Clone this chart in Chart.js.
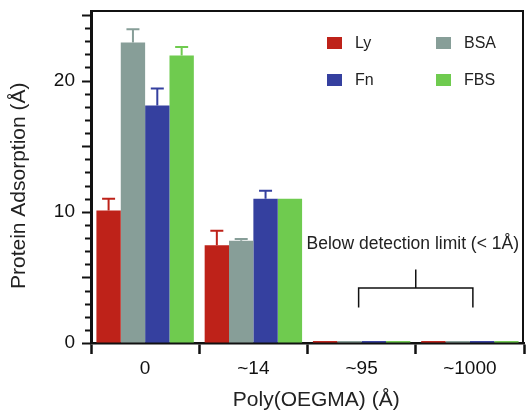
<!DOCTYPE html>
<html>
<head>
<meta charset="utf-8">
<script src="https://cdn.jsdelivr.net/npm/chart.js@4.4.1/dist/chart.umd.min.js"></script>
<style>
  body { margin: 0; background: #fff; }
  #wrap { width: 526px; height: 411px; }
</style>
</head>
<body>
<div id="wrap"><canvas id="adsorption"></canvas></div>
<script>
// thickness categories and adsorbed protein (Å)
let thickness = ["0", "~14", "~95", "~1000"];
let proteins = ["Ly", "BSA", "Fn", "FBS"];
let colors = ["#BE2219", "#879E98", "#35409F", "#6FCB4F"];

let ly = [10.1, 7.45, 0.15, 0.15];
let bsa = [22.9, 7.8, 0.15, 0.15];
let fn = [18.1, 11.0, 0.15, 0.15];
let fbs = [21.9, 11.0, 0.15, 0.15];

// upward error bars
let lyErr = [0.9, 1.1, 0, 0];
let bsaErr = [1.0, 0.12, 0, 0];
let fnErr = [1.3, 0.6, 0, 0];
let fbsErr = [0.65, 0, 0, 0];

let font = "'Liberation Sans', Arial, sans-serif";

let errorBars = {
  id: "errorBars",
  afterDatasetsDraw(chart) {
    let ctx = chart.ctx;
    let y = chart.scales.y;
    chart.data.datasets.forEach((ds, i) => {
      let meta = chart.getDatasetMeta(i);
      meta.data.forEach((bar, j) => {
        let e = ds.errors[j];
        if (!e) return;
        let top = y.getPixelForValue(ds.data[j] + e);
        ctx.save();
        ctx.strokeStyle = ds.backgroundColor;
        ctx.lineWidth = 2;
        ctx.beginPath();
        ctx.moveTo(bar.x, bar.y);
        ctx.lineTo(bar.x, top);
        ctx.moveTo(bar.x - 6.5, top);
        ctx.lineTo(bar.x + 6.5, top);
        ctx.stroke();
        ctx.restore();
      });
    });
  }
};

let frame = {
  id: "frame",
  afterDraw(chart) {
    let ctx = chart.ctx;
    let a = chart.chartArea;
    let y = chart.scales.y;
    ctx.save();
    ctx.strokeStyle = "#111";
    // top and right border
    ctx.lineWidth = 2;
    ctx.beginPath();
    ctx.moveTo(a.left, a.top);
    ctx.lineTo(a.right - 1, a.top);
    ctx.lineTo(a.right - 1, a.bottom);
    ctx.stroke();
    // y ticks, longer every 5
    for (let v = 0; v <= 25; v++) {
      let py = Math.round(y.getPixelForValue(v)) + 0.5;
      let len = v % 5 == 0 ? 9 : 6;
      ctx.lineWidth = 2;
      ctx.beginPath();
      ctx.moveTo(a.left - len, py);
      ctx.lineTo(a.left, py);
      ctx.stroke();
    }
    ctx.restore();
  }
};

let legendBox = {
  id: "legendBox",
  afterDraw(chart) {
    let ctx = chart.ctx;
    ctx.save();
    ctx.font = "16px " + font;
    ctx.textBaseline = "middle";
    chart.data.datasets.forEach((ds, i) => {
      let col = i % 2, row = Math.floor(i / 2);
      let x = 327 + col * 109;
      let yc = 43 + row * 37;
      ctx.fillStyle = ds.backgroundColor;
      ctx.fillRect(x, yc - 6, 15, 12);
      ctx.fillStyle = "#222";
      ctx.fillText(ds.label, x + 28, yc + 1);
    });
    ctx.restore();
  }
};

let bracket = {
  id: "bracket",
  afterDraw(chart) {
    let ctx = chart.ctx;
    let x = chart.scales.x;
    let y = chart.scales.y;
    let x1 = x.getPixelForValue(2) - 3;
    let x2 = x.getPixelForValue(3) + 3;
    let xm = (x1 + x2) / 2;
    let yStem = y.getPixelForValue(5.6);
    let yBar = y.getPixelForValue(4.2);
    let yLeg = y.getPixelForValue(2.7);
    ctx.save();
    ctx.strokeStyle = "#111";
    ctx.lineWidth = 1.5;
    ctx.beginPath();
    ctx.moveTo(xm, yStem);
    ctx.lineTo(xm, yBar);
    ctx.moveTo(x1, yLeg);
    ctx.lineTo(x1, yBar);
    ctx.lineTo(x2, yBar);
    ctx.lineTo(x2, yLeg);
    ctx.stroke();
    ctx.fillStyle = "#222";
    ctx.font = "17.5px " + font;
    ctx.textAlign = "center";
    ctx.textBaseline = "middle";
    ctx.fillText("Below detection limit (< 1Å)", xm - 3, y.getPixelForValue(7.5));
    ctx.restore();
  }
};

let series = [ly, bsa, fn, fbs];
let errs = [lyErr, bsaErr, fnErr, fbsErr];

let ctx = document.getElementById("adsorption").getContext("2d");
let chart = new Chart(ctx, {
  type: "bar",
  data: {
    labels: thickness,
    datasets: proteins.map((p, i) => ({
      label: p,
      data: series[i],
      errors: errs[i],
      backgroundColor: colors[i],
      borderWidth: 0,
      categoryPercentage: 0.9,
      barPercentage: 1.0
    }))
  },
  options: {
    responsive: true,
    maintainAspectRatio: false,
    animation: false,
    layout: { padding: { top: 11, right: 2, left: 0, bottom: 0 } },
    plugins: {
      legend: { display: false },
      tooltip: { enabled: false }
    },
    scales: {
      x: {
        offset: true,
        afterFit: s => { s.height = 68; s.paddingLeft = 0; s.paddingRight = 0; },
        grid: {
          offset: true,
          drawOnChartArea: false,
          drawTicks: true,
          tickLength: 11,
          tickWidth: 2.5,
          tickColor: "#111"
        },
        border: { color: "#111", width: 2.5 },
        ticks: { color: "#111", padding: 3, font: { family: font, size: 19 } },
        title: {
          display: true,
          // leading spaces nudge the title right, as in the original
          text: "\u00a0\u00a0\u00a0Poly(OEGMA) (Å)",
          color: "#222",
          font: { family: font, size: 21 },
          padding: { top: 0, bottom: -2 }
        }
      },
      y: {
        min: 0,
        max: 25.3,
        afterFit: s => { s.width = 91; s.paddingTop = 0; s.paddingBottom = 0; },
        grid: { drawOnChartArea: false, drawTicks: false },
        border: { color: "#111", width: 3 },
        ticks: {
          stepSize: 1,
          autoSkip: false,
          padding: 16,
          color: "#111",
          font: { family: font, size: 19 },
          callback: v => (v % 10 == 0 ? v : "")
        },
        title: {
          display: true,
          text: "Protein Adsorption (Å)\u00a0\u00a0\u00a0",
          color: "#222",
          font: { family: font, size: 21 },
          padding: { top: 7, bottom: 0 }
        }
      }
    }
  },
  plugins: [errorBars, frame, legendBox, bracket]
});
</script>
</body>
</html>
